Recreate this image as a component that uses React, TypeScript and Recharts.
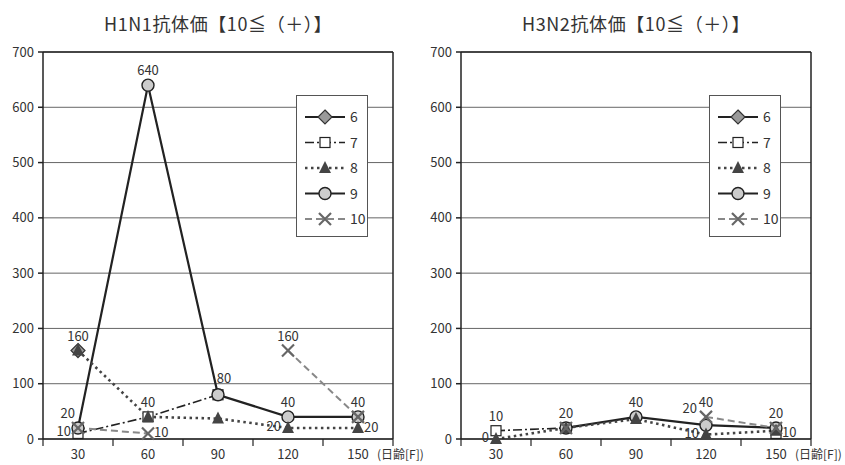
import React from "react";
import { LineChart, Line, XAxis, YAxis, CartesianGrid, ReferenceLine, LabelList } from "recharts";

const FONT = '"Noto Sans CJK JP", "Noto Sans", sans-serif';

// x categories (日齢) and axis ticks
const days = [30, 60, 90, 120, 150];
const dayBounds = [15, 45, 75, 105, 135, 165];
const yTicks = [0, 100, 200, 300, 400, 500, 600, 700];
const seriesNames = ["6", "7", "8", "9", "10"];

// H1N1 values per series
const h1n1_6 = [160, null, null, null, null];
const h1n1_7 = [10, 40, 80, null, null];
const h1n1_8 = [160, 40, 37, 20, 20];
const h1n1_9 = [20, 640, 80, 40, 40];
const h1n1_10 = [20, 10, null, 160, 40];

// H1N1 data labels
const h1n1Labels6 = ["160", null, null, null, null];
const h1n1Labels7 = ["10", null, null, null, null];
const h1n1Labels8 = [null, "40", null, "20", "20"];
const h1n1Labels9 = ["20", "640", "80", "40", "40"];
const h1n1Labels10 = [null, "10", null, "160", null];

// H3N2 values per series
const h3n2_6 = [null, null, null, null, null];
const h3n2_7 = [15, 20, null, null, 10];
const h3n2_8 = [0, 20, 36, 8, 15];
const h3n2_9 = [null, 20, 40, 25, 20];
const h3n2_10 = [null, 20, null, 40, 20];

// H3N2 data labels
const h3n2Labels6 = [null, null, null, null, null];
const h3n2Labels7 = ["10", null, null, null, "10"];
const h3n2Labels8 = ["0", null, null, "10", null];
const h3n2Labels9 = [null, "20", "40", "20", "20"];
const h3n2Labels10 = [null, null, null, "40", null];

type Shape = "diamond" | "square" | "triangle" | "circle" | "x";

const seriesStyle: Record<string, { stroke: string; width: number; dash?: string; shape: Shape }> = {
  "6": { stroke: "#222", width: 2, shape: "diamond" },
  "7": { stroke: "#222", width: 1.6, dash: "9 3 2 3", shape: "square" },
  "8": { stroke: "#444", width: 2.6, dash: "2.5 3.5", shape: "triangle" },
  "9": { stroke: "#222", width: 2.2, shape: "circle" },
  "10": { stroke: "#888", width: 2, dash: "7 4", shape: "x" },
};

// where each label sits relative to its point
const h1n1LabelPos: Record<string, string[]> = {
  "6": ["top", "top", "top", "top", "top"],
  "7": ["left", "top", "top", "top", "top"],
  "8": ["top", "top", "top", "left", "right"],
  "9": ["tl", "top", "tr", "top", "top"],
  "10": ["top", "right", "top", "top", "top"],
};
const h3n2LabelPos: Record<string, string[]> = {
  "6": ["top", "top", "top", "top", "top"],
  "7": ["top", "top", "top", "top", "right"],
  "8": ["left", "top", "top", "left", "top"],
  "9": ["top", "top", "top", "far", "top"],
  "10": ["top", "top", "top", "top", "top"],
};

function Marker({ shape, cx, cy }: { shape: Shape; cx: number; cy: number }) {
  switch (shape) {
    case "diamond":
      return (
        <polygon
          points={`${cx},${cy - 7} ${cx + 7},${cy} ${cx},${cy + 7} ${cx - 7},${cy}`}
          fill="#9a9a9a"
          stroke="#333"
          strokeWidth={1.2}
        />
      );
    case "square":
      return <rect x={cx - 5} y={cy - 5} width={10} height={10} fill="#fff" stroke="#222" strokeWidth={1.2} />;
    case "triangle":
      return <polygon points={`${cx},${cy - 7} ${cx + 6},${cy + 5} ${cx - 6},${cy + 5}`} fill="#444" />;
    case "circle":
      return <circle cx={cx} cy={cy} r={6} fill="#ccc" stroke="#222" strokeWidth={1.4} />;
    case "x":
      return (
        <g stroke="#666" strokeWidth={2.2}>
          <line x1={cx - 6} y1={cy - 6} x2={cx + 6} y2={cy + 6} />
          <line x1={cx - 6} y1={cy + 6} x2={cx + 6} y2={cy - 6} />
        </g>
      );
  }
  return null;
}

function buildRows(s6: any[], s7: any[], s8: any[], s9: any[], s10: any[]) {
  return days.map((d, i) => ({ day: d, "6": s6[i], "7": s7[i], "8": s8[i], "9": s9[i], "10": s10[i] }));
}

const XTick = (props: any) => {
  const { x, y, payload } = props;
  const v = payload.value;
  if (dayBounds.includes(v)) {
    return <line x1={x} y1={y} x2={x} y2={y + 7} stroke="#222" strokeWidth={1.2} />;
  }
  return (
    <text x={x} y={y + 20} textAnchor="middle" fontSize={13} fill="#333" fontFamily={FONT}>
      {v}
    </text>
  );
};

function makeLabel(texts: (string | null)[], pos: string[]) {
  return (props: any) => {
    const { x, y, index } = props;
    const t = texts[index];
    if (!t || x == null || y == null) return null;
    const p = pos[index];
    let tx = x, ty = y - 10, anchor: any = "middle";
    if (p === "left") { tx = x - 7; ty = y + 3; anchor = "end"; }
    if (p === "right") { tx = x + 6; ty = y + 4; anchor = "start"; }
    if (p === "tl") { tx = x - 3; ty = y - 10; anchor = "end"; }
    if (p === "tr") { tx = x + 6; ty = y - 12; anchor = "middle"; }
    if (p === "far") { tx = x - 9; ty = y - 12; anchor = "end"; }
    return (
      <text x={tx} y={ty} textAnchor={anchor} fontSize={13} fill="#333" fontFamily={FONT}>
        {t}
      </text>
    );
  };
}

function LegendBox({ left, top }: { left: number; top: number }) {
  return (
    <div
      style={{
        position: "absolute",
        left,
        top,
        width: 72,
        height: 142,
        background: "#fff",
        border: "1px solid #555",
        boxSizing: "border-box",
      }}
    >
      <svg width={70} height={140}>
        {seriesNames.map((n, i) => {
          const st = seriesStyle[n];
          const cy = 21 + i * 25.5;
          return (
            <g key={n}>
              <line x1={8} y1={cy} x2={48} y2={cy} stroke={st.stroke} strokeWidth={st.width} strokeDasharray={st.dash} />
              <Marker shape={st.shape} cx={28} cy={cy} />
              <text x={53} y={cy + 5} fontSize={14} fill="#333" fontFamily={FONT}>
                {n}
              </text>
            </g>
          );
        })}
      </svg>
    </div>
  );
}

function Panel({
  left,
  width,
  yAxisWidth,
  marginRight,
  title,
  rows,
  labels,
  labelPos,
  legendLeft,
}: {
  left: number;
  width: number;
  yAxisWidth: number;
  marginRight: number;
  title: string;
  rows: any[];
  labels: Record<string, (string | null)[]>;
  labelPos: Record<string, string[]>;
  legendLeft: number;
}) {
  const order = ["6", "7", "9", "8", "10"];
  return (
    <div style={{ position: "absolute", left, top: 0, width, height: 465 }}>
      <div
        style={{
          position: "absolute",
          left: 0,
          width: width,
          top: 10,
          textAlign: "center",
          fontSize: 18,
          letterSpacing: 0.6,
          color: "#333",
          fontFamily: FONT,
          paddingLeft: yAxisWidth - marginRight,
          boxSizing: "border-box",
        }}
      >
        {title}
      </div>
      <LineChart
        width={width}
        height={465}
        data={rows}
        margin={{ top: 52, right: marginRight, bottom: 0, left: 0 }}
        style={{ position: "absolute", left: 0, top: 0 }}
      >
        <CartesianGrid horizontal vertical={false} stroke="#666" strokeWidth={1} />
        <XAxis
          dataKey="day"
          type="number"
          domain={[15, 165]}
          ticks={[15, 30, 45, 60, 75, 90, 105, 120, 135, 150, 165]}
          interval={0}
          tickLine={false}
          tickSize={0}
          tickMargin={0}
          height={26}
          stroke="#222"
          strokeWidth={1.5}
          tick={<XTick />}
        />
        <YAxis
          type="number"
          domain={[0, 700]}
          ticks={yTicks}
          width={yAxisWidth}
          tickSize={5}
          tickMargin={4}
          stroke="#222"
          strokeWidth={1.5}
          tick={{ fontSize: 13, fill: "#333", fontFamily: FONT }}
        />
        <ReferenceLine y={700} stroke="#222" strokeWidth={1.5} />
        <ReferenceLine x={165} stroke="#222" strokeWidth={1.5} />
        {order.map((n) => {
          const st = seriesStyle[n];
          return (
            <Line
              key={n}
              dataKey={n}
              isAnimationActive={false}
              stroke={st.stroke}
              strokeWidth={st.width}
              strokeDasharray={st.dash}
              connectNulls={false}
              dot={(p: any) =>
                p.cy == null || p.value == null ? (
                  <g key={p.key ?? p.index} />
                ) : (
                  <g key={p.key ?? p.index}>
                    <Marker shape={st.shape} cx={p.cx} cy={p.cy} />
                  </g>
                )
              }
              activeDot={false}
            >
              <LabelList dataKey={n} content={makeLabel(labels[n], labelPos[n])} />
            </Line>
          );
        })}
      </LineChart>
      <div
        style={{
          position: "absolute",
          left: width - marginRight - 16,
          top: 445,
          fontSize: 12,
          color: "#333",
          fontFamily: FONT,
          whiteSpace: "nowrap",
        }}
      >
        (日齢[F])
      </div>
      <LegendBox left={legendLeft} top={95} />
    </div>
  );
}

export default function App() {
  const rows1 = buildRows(h1n1_6, h1n1_7, h1n1_8, h1n1_9, h1n1_10);
  const rows2 = buildRows(h3n2_6, h3n2_7, h3n2_8, h3n2_9, h3n2_10);
  return (
    <div style={{ position: "absolute", left: 0, top: 0, width: 845, height: 465, background: "#fff" }}>
      <Panel
        left={0}
        width={422}
        yAxisWidth={43}
        marginRight={29}
        title="H1N1抗体価【10≦（＋）】"
        rows={rows1}
        labels={{ "6": h1n1Labels6, "7": h1n1Labels7, "8": h1n1Labels8, "9": h1n1Labels9, "10": h1n1Labels10 }}
        labelPos={h1n1LabelPos}
        legendLeft={296}
      />
      <Panel
        left={422}
        width={423}
        yAxisWidth={39}
        marginRight={34}
        title="H3N2抗体価【10≦（＋）】"
        rows={rows2}
        labels={{ "6": h3n2Labels6, "7": h3n2Labels7, "8": h3n2Labels8, "9": h3n2Labels9, "10": h3n2Labels10 }}
        labelPos={h3n2LabelPos}
        legendLeft={287}
      />
    </div>
  );
}
